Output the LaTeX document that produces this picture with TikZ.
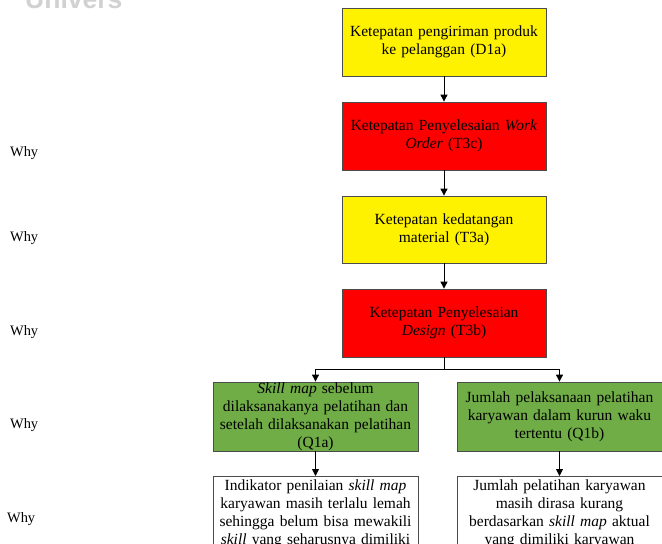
\documentclass[tikz,border=0pt]{standalone}
\usepackage{fontspec}
\setmainfont{Liberation Serif}
\newfontfamily\wmfont{Liberation Sans}
\usetikzlibrary{arrows.meta}

\tikzset{
  box/.style={draw=black!70, line width=0.8pt, minimum width=204pt, text width=198pt,
              align=center, inner xsep=3pt, inner ysep=0pt,
              font=\fontsize{15.5}{18}\selectfont},
  yelbox/.style={box, fill=yellow, minimum height=68pt},
  redbox/.style={box, fill=red, minimum height=68pt},
  grnbox/.style={box, fill=grn, minimum width=205pt, minimum height=69pt},
  whtbox/.style={box, fill=white, minimum width=205pt, inner ysep=3pt, anchor=north},
  whylabel/.style={anchor=west, inner sep=0pt, font=\fontsize{14.4}{16}\selectfont},
  arr/.style={draw=black, line width=0.9pt, -{Triangle[length=7pt,width=7pt]}},
  link/.style={draw=black, line width=0.9pt}
}
\definecolor{grn}{HTML}{70AD47}

\begin{document}
\begin{tikzpicture}[x=1pt, y=-1pt]
\useasboundingbox (0,0) rectangle (662,544);
\clip (0,0) rectangle (662,544);

% faint watermark lettering along the top edge
\node[anchor=base west, inner sep=0pt, text=black!18,
      font=\wmfont\bfseries\fontsize{26.5}{28}\selectfont] (wm) at (25,8) {Univers};

% main chain
\node[yelbox] (d1a) at (444,42)  {Ketepatan pengiriman produk\\ke pelanggan (D1a)};
\node[redbox] (t3c) at (444,136) {Ketepatan Penyelesaian \textit{Work}\\\textit{Order} (T3c)};
\node[yelbox, minimum height=67pt] (t3a) at (444,229.5) {Ketepatan kedatangan\\material (T3a)};
\node[redbox] (t3b) at (444,323) {Ketepatan Penyelesaian\\\textit{Design} (T3b)};

% branch level
\node[grnbox] (q1a) at (315.5,416.5) {\textit{Skill map} sebelum\\dilaksanakanya pelatihan dan\\setelah dilaksanakan pelatihan\\(Q1a)};
\node[grnbox] (q1b) at (559.5,416.5) {Jumlah pelaksanaan pelatihan\\karyawan dalam kurun waku\\tertentu (Q1b)};

% root causes
\node[whtbox] (rca) at (315.5,476) {Indikator penilaian \textit{skill map}\\karyawan masih terlalu lemah\\sehingga belum bisa mewakili\\\textit{skill} yang seharusnya dimiliki\\\strut};
\node[whtbox] (rcb) at (559.5,476) {Jumlah pelatihan karyawan\\masih dirasa kurang\\berdasarkan \textit{skill map} aktual\\yang dimiliki karyawan\\\strut};

% connectors
\draw[arr] (d1a) -- (t3c);
\draw[arr] (t3c) -- (t3a);
\draw[arr] (t3a) -- (t3b);
\coordinate (split) at (444,369);
\draw[link] (t3b.south) -- (split);
\draw[arr] (split) -| (q1a.north);
\draw[arr] (split) -| (q1b.north);
\draw[arr] (q1a) -- (rca);
\draw[arr] (q1b) -- (rcb);

% level labels
\node[whylabel] (w1) at (10,153) {Why};
\node[whylabel] (w2) at (10,238) {Why};
\node[whylabel] (w3) at (10,332) {Why};
\node[whylabel] (w4) at (10,425) {Why};
\node[whylabel] (w5) at (7,519)  {Why};
\end{tikzpicture}
\end{document}
